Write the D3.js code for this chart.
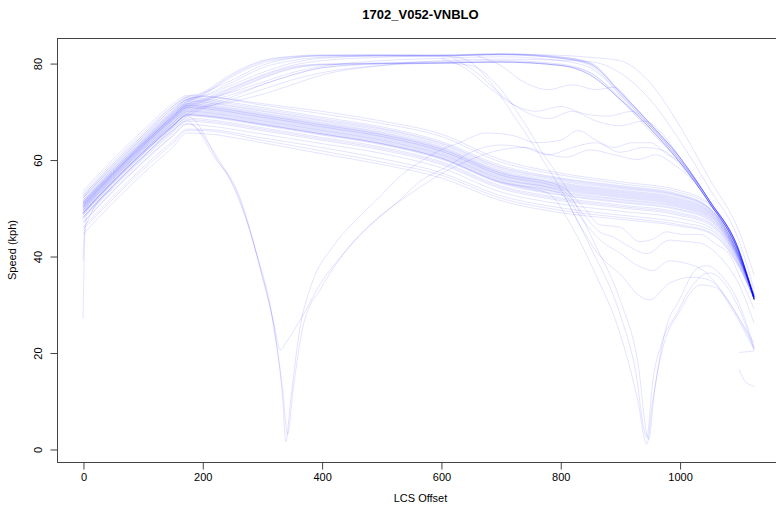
<!DOCTYPE html>
<html>
<head>
<meta charset="utf-8">
<script src="https://cdn.jsdelivr.net/npm/d3@7"></script>
<style>
  html, body { margin: 0; padding: 0; background: #ffffff; }
  svg { display: block; }
  text { font-family: "Liberation Sans", Arial, sans-serif; fill: #000; }
</style>
</head>
<body>
<svg id="chart" width="776" height="511"></svg>
<script>
// ---------------- DATA ----------------
const chartTitle = "1702_V052-VNBLO";
const xTitle = "LCS Offset";
const yTitle = "Speed (kph)";
const xTicks = [0, 200, 400, 600, 800, 1000];
const yTicks = [0, 20, 40, 60, 80];

// main lower bundle (speed values at the offsets in xLower)
const xLower = [0, 50, 100, 150, 175, 200, 300, 400, 500, 600, 700, 800, 900, 1000, 1050, 1100, 1125];
const lowerBundle = [
  [53.5, 60, 66, 71.5, 73.3, 73.2, 71.6, 70, 68, 65.3, 60, 57.2, 55.4, 53.6, 50.8, 40.6, 32],
  [53, 59.5, 65.5, 71, 73, 73, 71.3, 69.5, 67.5, 64.8, 59.5, 56.8, 55, 53.2, 50.5, 40.5, 32],
  [52.5, 59, 65, 70.5, 72.8, 72.6, 70.8, 68.8, 66.8, 63.8, 58.8, 56.2, 54.6, 52.8, 50, 40.3, 31.8],
  [52.2, 58.6, 64.6, 70.1, 72.5, 72.3, 70.5, 68.5, 66.5, 63.5, 58.5, 56, 54.4, 52.6, 49.9, 40.1, 31.8],
  [52, 58.3, 64.3, 69.8, 72.3, 72, 70.2, 68.2, 66.3, 63.3, 58.3, 55.8, 54.2, 52.5, 49.8, 40, 31.7],
  [51.6, 58, 64, 69.5, 72, 71.8, 70, 68, 66, 63, 58, 55.5, 54, 52.3, 49.7, 40, 31.6],
  [51.3, 57.7, 63.7, 69.2, 71.7, 71.5, 69.7, 67.7, 65.7, 62.7, 57.7, 55.2, 53.7, 52, 49.5, 40, 31.6],
  [51.1, 57.5, 63.5, 69, 71.5, 71.3, 69.5, 67.5, 65.5, 62.5, 57.5, 55, 53.5, 51.8, 49.3, 39.9, 31.5],
  [51, 57.3, 63.3, 68.8, 71.3, 71.1, 69.3, 67.3, 65.3, 62.3, 57.3, 54.8, 53.3, 51.6, 49.2, 39.8, 31.5],
  [50.7, 57.1, 63.1, 68.6, 71.1, 70.9, 69.1, 67.1, 65.1, 62.1, 57.1, 54.6, 53.1, 51.4, 49, 39.8, 31.5],
  [50.4, 56.9, 62.9, 68.4, 70.9, 70.7, 68.9, 66.9, 64.9, 61.9, 56.9, 54.4, 52.9, 51.2, 48.9, 39.7, 31.5],
  [50.2, 56.7, 62.7, 68.2, 70.7, 70.5, 68.7, 66.7, 64.7, 61.7, 56.7, 54.2, 52.7, 51, 48.7, 39.6, 31.5],
  [50, 56.5, 62.5, 68, 70.5, 70.3, 68.5, 66.5, 64.5, 61.5, 56.5, 54, 52.5, 50.8, 48.5, 39.5, 31.5],
  [49.8, 56.3, 62.3, 67.8, 70.3, 70.1, 68.3, 66.3, 64.3, 61.3, 56.3, 53.8, 52.3, 50.6, 48.4, 39.5, 31.5],
  [49.6, 56.1, 62.1, 67.6, 70.1, 69.9, 68.1, 66.1, 64.1, 61.1, 56.1, 53.6, 52.1, 50.4, 48.2, 39.4, 31.5],
  [49.3, 55.8, 61.8, 67.3, 69.8, 69.6, 67.8, 65.8, 63.8, 60.8, 55.8, 53.3, 51.8, 50.2, 48, 39.3, 31.4],
  [49, 55.6, 61.6, 67.1, 69.6, 69.4, 67.6, 65.6, 63.6, 60.6, 55.6, 53.1, 51.6, 50, 47.8, 39.2, 31.4],
  [48.8, 55.3, 61.3, 66.8, 69.3, 69.1, 67.3, 65.3, 63.3, 60.3, 55.3, 52.8, 51.3, 49.7, 47.6, 39.1, 31.4],
  [48.6, 55.1, 61.1, 66.6, 69.1, 68.9, 67.1, 65.1, 63.1, 60.1, 55.1, 52.6, 51.1, 49.5, 47.4, 39, 31.4],
  [48.1, 54.6, 60.6, 66.1, 68.6, 68.4, 66.6, 64.6, 62.6, 59.6, 54.6, 52.1, 50.6, 49, 47, 38.8, 31.3],
  [47.8, 54.3, 60.3, 65.8, 68.3, 68.1, 66.3, 64.3, 62.3, 59.3, 54.3, 51.8, 50.3, 48.7, 46.8, 38.7, 31.3],
  [47.5, 54, 60, 65.5, 68, 67.8, 66, 64, 62, 59, 54, 51.5, 50, 48.4, 46.5, 38.5, 31.2],
  [46.8, 53.3, 59.3, 64.8, 67.3, 67.1, 65.3, 63.3, 61.3, 58.3, 53.3, 50.8, 49.3, 47.8, 46, 38.2, 31.1],
  [46, 52.3, 58.3, 63.8, 66.3, 66.3, 64.5, 62.5, 60.2, 57.3, 52.5, 50, 48.5, 47, 45.5, 38, 31],
  [45.5, 51.8, 57.8, 63.3, 66, 66, 64, 61.8, 59.5, 56.8, 52, 49.5, 48, 46.5, 45, 37.8, 31],
  [44.5, 51, 57, 62.5, 65.5, 65.4, 63.5, 61.2, 59, 56.2, 51.5, 49, 47.6, 46.2, 44.8, 37.6, 31]
];

// upper bundle (speed values at the offsets in xUpper)
const xUpper = [0, 50, 100, 150, 175, 200, 250, 300, 350, 400, 500, 600, 700, 800, 850, 900, 950, 1000, 1050, 1100, 1125];
const upperBundle = [
  [51, 57.5, 63.5, 69.5, 72, 73.5, 77.5, 80.3, 81.3, 81.6, 81.6, 81.5, 81.9, 81.2, 80, 74, 67.5, 60.5, 51.5, 41, 31],
  [51.2, 57.7, 63.7, 69.7, 72.2, 73.8, 77.8, 80.5, 81.4, 81.7, 81.7, 81.6, 82, 81.3, 80.1, 74.2, 67.6, 60.6, 51.6, 41.1, 31.1],
  [50.8, 57.3, 63.3, 69.3, 71.8, 73.3, 77.2, 80, 81.1, 81.5, 81.5, 81.4, 81.8, 81.1, 79.8, 73.8, 67.3, 60.3, 51.4, 40.9, 31],
  [50, 56.5, 62.5, 68.5, 71, 72, 74.5, 77, 79, 79.7, 79.9, 80, 80.2, 79.5, 77.5, 72.5, 66.5, 59.5, 51, 40.5, 31],
  [50.2, 56.7, 62.7, 68.7, 71.2, 72.2, 74.8, 77.3, 79.2, 79.8, 80, 80.1, 80.3, 79.6, 77.6, 72.6, 66.6, 59.6, 51.1, 40.6, 31],
  [52, 58.5, 64.5, 70.5, 72.5, 73, 75.5, 78, 80, 81, 81.5, 81.5, 81.7, 81, 79.5, 73.5, 67, 60, 51.5, 41, 31],
  [49, 55.5, 61.5, 67.5, 70, 71, 73, 75.5, 77.5, 79, 80, 80.3, 80.5, 79.8, 78, 73, 66.5, 59.5, 51, 40.5, 31],
  [50.5, 57, 63, 69, 71.5, 72.3, 74, 76, 78, 79.3, 80.5, 81, 81.3, 80.5, 79, 73.5, 67, 60, 51.5, 41, 31.2],
  [48, 54.5, 60.5, 66.5, 69, 70.5, 72.5, 74.5, 76.5, 78, 79.5, 80, 80.2, 79.5, 78, 72.5, 66, 59.5, 51, 40.5, 31],
  [51.5, 58, 64, 70, 72.5, 73.2, 76, 79, 80.5, 81.2, 81.5, 81.6, 81.8, 81, 79.8, 74, 67.5, 60.5, 51.5, 41, 31],
  [49.5, 56, 62, 68, 70.5, 71.5, 73.5, 75.5, 77.5, 79, 79.8, 80, 80.2, 79.5, 77.5, 72.5, 66.5, 59.5, 51, 40.5, 31],
  [52.5, 59, 65, 71, 73, 73.8, 76.5, 79.5, 81, 81.5, 81.7, 81.7, 81.8, 81.6, 81.2, 80.5, 76, 67, 56, 45, 36],
  [48.5, 55, 61, 67, 69.5, 70.8, 72, 73.5, 75.5, 77.5, 79.5, 80.5, 80.8, 80.6, 80.3, 78, 72.5, 64, 54, 43, 33]
];

// runs dipping to a stop near offset 340 and recovering (offset, speed)
const firstDip = [
  [[0,48],[50,54.5],[100,60.5],[150,66],[175,68],[190,66.5],[220,60.5],[258,53.7],[296,38],[320,25],[335,10],[340,1.5],[348,10],[365,26],[380,33],[419,42],[450,46.5],[492,51.6],[536,57],[565,59.5],[600,62],[631,63.5],[676,65.5],[720,65],[760,63.5],[800,64],[830,66],[860,64],[890,62.5],[920,63.5],[950,63.5],[980,61],[1000,59.5],[1050,51],[1100,41],[1125,31]],
  [[0,47],[50,53.5],[100,59.5],[150,65],[175,67.5],[195,66],[225,60],[262,52],[300,36],[320,26],[331,20.5],[340,22],[363,26.5],[402,35],[430,39.5],[470,45],[531,51.6],[565,55.5],[610,58.5],[650,61.5],[700,63],[740,62.5],[780,61],[820,62.5],[860,63.5],[900,61.5],[940,62.5],[970,62],[1000,59],[1050,51],[1100,40.5],[1125,31]],
  [[0,49],[50,55.5],[100,61.5],[150,67],[175,69],[188,68],[215,62.5],[250,55],[290,41],[318,27],[335,12],[343,3],[352,12],[370,26],[400,33.5],[440,41],[500,48.5],[550,53],[600,57],[650,60],[700,62],[740,62.5],[780,61],[810,60.5],[850,62],[890,61],[930,60],[960,61],[990,59],[1020,56],[1050,51],[1100,40.5],[1125,31]]
];

// runs dipping to a stop near offset 950 (offset, speed)
const secondDip = [
  [[0,50.5],[50,57],[100,63],[150,69],[175,71.5],[200,72.5],[250,75],[300,77.5],[350,79.5],[400,80.5],[500,81.2],[600,81.5],[640,80.8],[680,76.5],[720,69.5],[760,62],[800,54],[850,42],[900,28],[925,17],[945,2.5],[955,14],[970,22],[995,28],[1022,34],[1050,36.5],[1080,33.5],[1100,29],[1125,20.5]],
  [[0,49.8],[50,56.3],[100,62.3],[150,68.3],[175,70.8],[200,71.8],[250,74.2],[300,76.8],[350,78.8],[400,79.6],[500,79.9],[600,80],[650,79.5],[690,76],[730,69.5],[770,61.5],[820,52],[860,42],[900,31],[930,18],[948,2],[958,12],[975,24],[1000,31],[1030,37.5],[1045,38],[1070,36],[1100,30],[1125,21]],
  [[0,48.8],[50,55.3],[100,61.3],[150,66.8],[175,69.3],[200,69.1],[300,67.3],[400,65.3],[500,63.3],[600,60.3],[700,55.3],[750,54],[780,53],[820,46],[860,36],[900,24],[930,10],[945,1],[955,10],[970,20],[1000,28.5],[1035,34],[1060,33.5],[1090,28.5],[1125,20.5]]
];

// wavy runs leaving the upper bundle (offset, speed)
const upperWaves = [
  [[660,81.5],[700,79.5],[740,76],[780,74.5],[820,75.5],[860,74.5],[890,75],[920,71.5],[950,67.5],[1000,60.5],[1050,51.5],[1100,41],[1125,31]],
  [[600,81],[640,79],[680,75],[720,71.5],[760,70],[800,71],[840,69.5],[880,69],[920,70],[950,67],[1000,60],[1050,51.5],[1100,41],[1125,31]],
  [[620,81],[660,78],[700,73.5],[740,70],[780,68.5],[820,70],[860,68],[900,67],[940,68],[970,65.5],[1000,60.5],[1050,51.5],[1100,41],[1125,31]]
];

// wavy runs leaving the lower bundle late (offset, speed)
const lowerWaves = [
  [[0,50.8],[50,57.2],[100,63.2],[150,68.7],[175,71.2],[200,71],[300,69.2],[400,67.2],[500,65.2],[600,62.2],[700,57.2],[800,54.5],[840,50],[866,46.5],[900,46],[933,43],[955,43.5],[978,45],[1005,44.5],[1034,44.5],[1060,42.5],[1085,40],[1100,36],[1125,29]],
  [[0,50.3],[50,56.8],[100,62.8],[150,68.3],[175,70.8],[200,70.6],[300,68.8],[400,66.8],[500,64.8],[600,61.8],[700,56.8],[800,54],[840,48.5],[866,45],[888,44],[915,42],[945,40.5],[983,43.3],[1010,43],[1034,42.7],[1070,39.5],[1100,34],[1125,26]],
  [[0,49.5],[50,56],[100,62],[150,67.5],[175,70],[200,69.8],[300,68],[400,66],[500,64],[600,61],[700,56],[800,53.5],[840,47],[870,43],[900,40.6],[930,38],[955,37],[983,39],[1010,38.5],[1040,37],[1080,31],[1100,27],[1125,22]],
  [[0,48.9],[50,55.4],[100,61.4],[150,66.9],[175,69.4],[200,69.2],[300,67.4],[400,65.4],[500,63.4],[600,60.4],[700,55.4],[800,53],[830,47],[860,41],[905,35.6],[930,32],[950,30.9],[983,34.4],[1022,35.6],[1050,35],[1080,31],[1100,27],[1125,21]]
];

// short fragments (offset, speed)
const fragments = [
  [[0,27],[1,33],[4,46],[50,54]],
  [[0,39],[2,44],[6,48]],
  [[1100,20],[1125,20.3]],
  [[1100,16.5],[1110,14],[1125,13]]
];

// ---------------- DRAWING ----------------
const svg = d3.select("#chart");
const plot = { left: 57, right: 784, top: 38, bottom: 462 };

const x = d3.scaleLinear().domain([-43.5, 1175]).range([plot.left, plot.right]);
const y = d3.scaleLinear().domain([-2.7, 85.2]).range([plot.bottom, plot.top]);

svg.append("defs").append("clipPath").attr("id", "clip")
  .append("rect")
  .attr("x", plot.left).attr("y", plot.top)
  .attr("width", plot.right - plot.left).attr("height", plot.bottom - plot.top);

const line = d3.line()
  .defined(d => d[1] != null)
  .x(d => x(d[0])).y(d => y(d[1]))
  .curve(d3.curveMonotoneX);

const allSeries = [];
lowerBundle.forEach(vals => allSeries.push(vals.map((v, i) => [xLower[i], v])));
upperBundle.forEach(vals => allSeries.push(vals.map((v, i) => [xUpper[i], v])));
[firstDip, secondDip, upperWaves, lowerWaves, fragments].forEach(g => g.forEach(s => allSeries.push(s)));

const gLines = svg.append("g").attr("clip-path", "url(#clip)");
gLines.selectAll("path")
  .data(allSeries)
  .join("path")
  .attr("d", line)
  .attr("fill", "none")
  .attr("stroke", "#0000ff")
  .attr("stroke-opacity", 0.11)
  .attr("stroke-width", 1);

// box
svg.append("rect")
  .attr("x", plot.left + 0.5).attr("y", plot.top + 0.5)
  .attr("width", plot.right - plot.left).attr("height", plot.bottom - plot.top)
  .attr("fill", "none").attr("stroke", "#444").attr("stroke-width", 1);

// x axis
const xAxis = d3.axisBottom(x).tickValues(xTicks).tickSize(7).tickPadding(4).tickFormat(d3.format("d"));
const gx = svg.append("g").attr("transform", `translate(0.5,${plot.bottom + 0.5})`).call(xAxis);
gx.select(".domain").remove();
gx.selectAll(".tick line").attr("stroke", "#444");
gx.selectAll(".tick text").attr("font-size", 11).attr("font-family", "Liberation Sans, Arial, sans-serif").attr("fill", "#000");

// y axis
const yAxis = d3.axisLeft(y).tickValues(yTicks).tickSize(7).tickFormat(d3.format("d"));
const gy = svg.append("g").attr("transform", `translate(${plot.left + 0.5},0.5)`).call(yAxis);
gy.select(".domain").remove();
gy.selectAll(".tick line").attr("stroke", "#444");
gy.selectAll(".tick text")
  .attr("font-size", 11).attr("font-family", "Liberation Sans, Arial, sans-serif").attr("fill", "#000")
  .attr("x", null).attr("dy", null)
  .attr("text-anchor", "middle")
  .attr("transform", "translate(-15.5,0) rotate(-90)");

// titles
svg.append("text")
  .attr("x", (plot.left + plot.right) / 2).attr("y", 19)
  .attr("text-anchor", "middle").attr("font-weight", "bold").attr("font-size", 13)
  .text(chartTitle);

svg.append("text")
  .attr("x", (plot.left + plot.right) / 2).attr("y", 502)
  .attr("text-anchor", "middle").attr("font-size", 11)
  .text(xTitle);

svg.append("text")
  .attr("transform", `translate(16,${(plot.top + plot.bottom) / 2}) rotate(-90)`)
  .attr("text-anchor", "middle").attr("font-size", 11)
  .text(yTitle);
</script>
</body>
</html>
